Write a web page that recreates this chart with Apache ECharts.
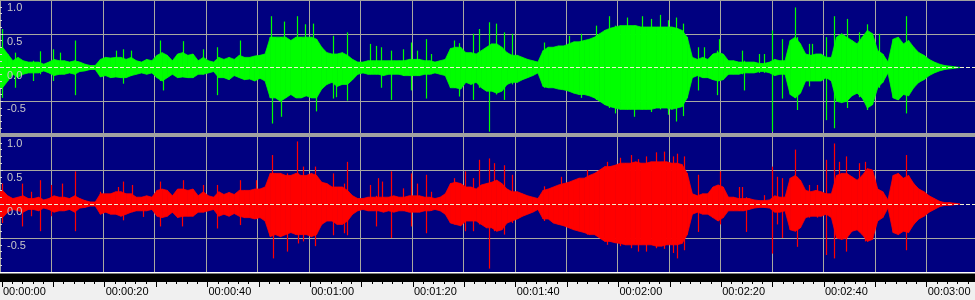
<!DOCTYPE html>
<html><head><meta charset="utf-8">
<script src="https://cdn.jsdelivr.net/npm/echarts@6/dist/echarts.min.js"></script>
<style>html,body{margin:0;padding:0;background:#f0f0f0}#c{width:975px;height:300px}</style>
</head><body><div id="c"></div>
<script>
// Per-second envelope of the dense waveform body (index = second)
const greenHi = [0.3,0.2,0.1,0.15,0.1,0.08,0.08,0.08,0.05,0.08,
0.12,0.1,0.1,0.08,0.1,0.08,0.05,0.03,0.03,0.12,
0.15,0.14,0.15,0.15,0.12,0.15,0.1,0.08,0.12,0.1,
0.18,0.22,0.18,0.1,0.2,0.22,0.18,0.2,0.1,0.15,
0.1,0.08,0.15,0.12,0.15,0.12,0.18,0.15,0.15,0.17,
0.18,0.2,0.45,0.45,0.45,0.45,0.4,0.45,0.45,0.45,
0.45,0.42,0.3,0.22,0.2,0.2,0.22,0.18,0.12,0.08,
0.08,0.1,0.1,0.1,0.1,0.1,0.1,0.1,0.1,0.12,
0.12,0.12,0.1,0.1,0.08,0.1,0.12,0.28,0.3,0.3,
0.22,0.22,0.2,0.25,0.3,0.35,0.35,0.3,0.22,0.18,
0.18,0.15,0.12,0.1,0.08,0.25,0.3,0.3,0.32,0.32,
0.35,0.38,0.38,0.4,0.42,0.45,0.5,0.55,0.58,0.6,
0.62,0.62,0.62,0.62,0.6,0.6,0.6,0.6,0.6,0.6,
0.6,0.58,0.55,0.45,0.15,0.12,0.15,0.12,0.2,0.22,
0.2,0.1,0.1,0.08,0.08,0.08,0.08,0.06,0.06,0.08,
0.12,0.1,0.1,0.4,0.45,0.35,0.2,0.18,0.2,0.2,
0.15,0.15,0.45,0.5,0.45,0.4,0.35,0.45,0.55,0.5,
0.25,0.2,0.08,0.42,0.45,0.35,0.4,0.3,0.22,0.18,
0.12,0.08,0.05,0.03,0.02,0.01];
const greenLo = [-0.3,-0.2,-0.1,-0.15,-0.1,-0.08,-0.08,-0.08,-0.05,-0.08,
-0.12,-0.1,-0.1,-0.08,-0.1,-0.06,-0.05,-0.03,-0.03,-0.14,
-0.12,-0.15,-0.14,-0.15,-0.15,-0.12,-0.1,-0.08,-0.1,-0.08,
-0.15,-0.2,-0.15,-0.1,-0.15,-0.14,-0.15,-0.15,-0.1,-0.1,
-0.08,-0.06,-0.15,-0.15,-0.18,-0.12,-0.15,-0.18,-0.17,-0.2,
-0.16,-0.2,-0.45,-0.45,-0.5,-0.45,-0.4,-0.45,-0.45,-0.42,
-0.45,-0.45,-0.32,-0.25,-0.22,-0.28,-0.25,-0.25,-0.18,-0.1,
-0.08,-0.1,-0.1,-0.1,-0.12,-0.1,-0.1,-0.1,-0.12,-0.12,
-0.12,-0.12,-0.1,-0.1,-0.08,-0.1,-0.12,-0.3,-0.3,-0.32,
-0.22,-0.25,-0.22,-0.3,-0.35,-0.35,-0.38,-0.35,-0.25,-0.22,
-0.22,-0.18,-0.15,-0.12,-0.08,-0.28,-0.3,-0.3,-0.32,-0.33,
-0.35,-0.38,-0.4,-0.4,-0.42,-0.45,-0.5,-0.55,-0.58,-0.6,
-0.62,-0.62,-0.62,-0.62,-0.62,-0.62,-0.62,-0.6,-0.6,-0.6,
-0.62,-0.6,-0.58,-0.45,-0.15,-0.12,-0.15,-0.15,-0.18,-0.2,
-0.18,-0.1,-0.1,-0.1,-0.08,-0.08,-0.08,-0.06,-0.06,-0.08,
-0.12,-0.1,-0.1,-0.4,-0.45,-0.38,-0.2,-0.2,-0.2,-0.2,
-0.15,-0.2,-0.5,-0.52,-0.5,-0.42,-0.38,-0.45,-0.6,-0.55,
-0.3,-0.22,-0.08,-0.45,-0.48,-0.4,-0.42,-0.3,-0.22,-0.18,
-0.12,-0.08,-0.05,-0.03,-0.02,-0.01];
const redHi = [0.2,0.12,0.08,0.1,0.12,0.08,0.08,0.1,0.06,0.08,
0.12,0.1,0.1,0.08,0.12,0.08,0.05,0.03,0.03,0.15,
0.15,0.15,0.18,0.18,0.15,0.15,0.1,0.1,0.12,0.1,
0.2,0.22,0.2,0.12,0.22,0.22,0.2,0.22,0.12,0.18,
0.12,0.1,0.18,0.14,0.17,0.14,0.2,0.2,0.2,0.22,
0.22,0.25,0.45,0.45,0.45,0.42,0.42,0.45,0.42,0.42,
0.45,0.42,0.32,0.3,0.25,0.25,0.25,0.2,0.12,0.08,
0.08,0.1,0.1,0.1,0.1,0.1,0.12,0.1,0.1,0.12,
0.12,0.12,0.1,0.1,0.08,0.1,0.15,0.3,0.32,0.3,
0.25,0.25,0.22,0.28,0.3,0.32,0.35,0.3,0.22,0.18,
0.18,0.15,0.12,0.1,0.08,0.2,0.22,0.25,0.28,0.3,
0.32,0.35,0.38,0.38,0.42,0.45,0.5,0.55,0.55,0.57,
0.6,0.6,0.6,0.62,0.6,0.6,0.62,0.62,0.62,0.62,
0.6,0.6,0.58,0.45,0.15,0.12,0.15,0.15,0.25,0.28,
0.25,0.1,0.1,0.08,0.08,0.08,0.06,0.05,0.05,0.06,
0.12,0.1,0.1,0.38,0.42,0.35,0.2,0.18,0.2,0.18,
0.15,0.15,0.42,0.45,0.45,0.4,0.35,0.42,0.52,0.5,
0.22,0.18,0.06,0.42,0.45,0.38,0.42,0.3,0.22,0.18,
0.12,0.08,0.04,0.02,0.02,0.01];
const redLo = [-0.2,-0.12,-0.08,-0.1,-0.12,-0.08,-0.08,-0.1,-0.06,-0.08,
-0.12,-0.1,-0.1,-0.08,-0.12,-0.06,-0.05,-0.03,-0.03,-0.15,
-0.12,-0.15,-0.15,-0.18,-0.15,-0.12,-0.1,-0.1,-0.1,-0.08,
-0.18,-0.2,-0.18,-0.12,-0.2,-0.18,-0.18,-0.18,-0.12,-0.12,
-0.1,-0.08,-0.18,-0.15,-0.18,-0.14,-0.18,-0.2,-0.2,-0.22,
-0.2,-0.25,-0.48,-0.45,-0.48,-0.45,-0.42,-0.45,-0.45,-0.45,
-0.48,-0.45,-0.3,-0.25,-0.25,-0.3,-0.3,-0.25,-0.15,-0.1,
-0.08,-0.1,-0.1,-0.1,-0.12,-0.1,-0.12,-0.1,-0.1,-0.12,
-0.12,-0.12,-0.1,-0.1,-0.08,-0.1,-0.15,-0.28,-0.3,-0.32,
-0.25,-0.25,-0.25,-0.3,-0.35,-0.35,-0.4,-0.38,-0.28,-0.25,
-0.22,-0.18,-0.15,-0.12,-0.08,-0.22,-0.22,-0.28,-0.3,-0.32,
-0.35,-0.38,-0.4,-0.42,-0.45,-0.45,-0.5,-0.55,-0.55,-0.57,
-0.58,-0.6,-0.6,-0.6,-0.6,-0.6,-0.6,-0.62,-0.62,-0.6,
-0.6,-0.6,-0.58,-0.45,-0.15,-0.12,-0.15,-0.15,-0.2,-0.25,
-0.2,-0.1,-0.1,-0.1,-0.1,-0.08,-0.06,-0.05,-0.05,-0.06,
-0.12,-0.12,-0.1,-0.38,-0.4,-0.35,-0.2,-0.18,-0.18,-0.18,
-0.15,-0.2,-0.5,-0.52,-0.5,-0.4,-0.38,-0.45,-0.55,-0.52,
-0.25,-0.2,-0.06,-0.42,-0.45,-0.4,-0.42,-0.3,-0.22,-0.18,
-0.12,-0.08,-0.04,-0.02,-0.02,-0.01];

// Individual peaks (time in s, max, min)
const greenSpikeT = [0.3,2.9,6.4,7.8,10.3,11.7,14.6,22.5,23.8,25.5,31.1,31.7,35.6,39.5,42.1,46.6,52.7,52.9,54.5,55.2,57.6,59.2,60.8,61.4,64.6,65.3,67.4,71.9,73.0,74.1,75.9,78.2,79.8,81.1,82.7,83.7,88.2,89.2,91.8,93.1,95.0,96.3,97.9,99.5,105.7,110.5,112.8,115.7,118.3,119.5,121.8,123.1,124.7,126.5,128.2,129.8,131.4,132.6,135.6,136.8,139.2,139.7,144.2,144.5,147.5,148.4,150.0,152.0,154.4,154.9,157.1,157.8,160.4,162.0,164.6,166.8,168.5,170.7,175.9];
const greenSpikeHi = [0.57,0.22,0.1,0.24,0.27,0.22,0.4,0.25,0.27,0.25,0.4,0.2,0.39,0.27,0.3,0.4,0.76,0.45,0.45,0.68,0.76,0.64,0.65,0.42,0.47,0.2,0.52,0.35,0.32,0.3,0.25,0.27,0.37,0.25,0.42,0.2,0.4,0.36,0.5,0.57,0.67,0.65,0.52,0.5,0.37,0.47,0.5,0.62,0.76,0.62,0.74,0.62,0.76,0.72,0.78,0.7,0.74,0.65,0.3,0.3,0.25,0.42,0.25,0.1,0.2,0.2,0.55,0.42,0.89,0.45,0.35,0.35,0.45,0.76,0.72,0.52,0.64,0.5,0.76];
const greenSpikeLo = [-0.45,-0.3,-0.2,-0.1,-0.2,-0.1,-0.41,-0.14,-0.24,-0.12,-0.2,-0.34,-0.14,-0.1,-0.41,-0.15,-0.45,-0.83,-0.73,-0.45,-0.45,-0.42,-0.45,-0.65,-0.46,-0.44,-0.49,-0.1,-0.1,-0.3,-0.48,-0.12,-0.34,-0.12,-0.46,-0.1,-0.3,-0.43,-0.48,-0.3,-0.95,-0.4,-0.48,-0.25,-0.3,-0.35,-0.45,-0.48,-0.6,-0.68,-0.62,-0.73,-0.62,-0.66,-0.62,-0.7,-0.8,-0.72,-0.34,-0.15,-0.41,-0.2,-0.1,-0.34,-0.08,-0.08,-0.95,-0.46,-0.45,-0.63,-0.28,-0.2,-0.78,-0.9,-0.6,-0.44,-0.63,-0.3,-0.68];
const redSpikeT = [0.3,4.2,6.1,7.8,10.0,12.0,14.6,19.4,23.0,23.9,25.6,27.8,31.1,35.3,35.6,39.5,42.1,46.6,49.8,52.8,53.1,55.7,57.6,57.9,58.9,61.2,64.6,66.9,67.4,71.9,73.0,73.4,74.3,75.9,78.2,79.8,81.1,82.7,83.7,88.2,90.3,91.8,93.1,95.0,96.0,97.9,99.5,105.7,108.9,114.1,118.0,120.5,122.5,124.0,125.4,127.5,129.0,130.7,131.6,132.8,135.6,139.8,143.6,144.2,144.9,148.4,150.0,151.0,152.0,154.4,154.9,157.1,158.8,160.4,162.0,163.0,164.3,166.8,168.1,175.9];
const redSpikeHi = [0.3,0.3,0.18,0.35,0.28,0.3,0.48,0.18,0.25,0.33,0.28,0.1,0.33,0.22,0.35,0.28,0.28,0.35,0.35,0.72,0.45,0.45,0.92,0.45,0.55,0.55,0.45,0.3,0.62,0.28,0.12,0.38,0.33,0.48,0.23,0.45,0.3,0.43,0.18,0.38,0.48,0.38,0.65,0.67,0.6,0.57,0.43,0.26,0.4,0.5,0.62,0.68,0.72,0.66,0.7,0.76,0.77,0.7,0.74,0.7,0.43,0.48,0.25,0.25,0.1,0.13,0.55,0.4,0.38,0.8,0.4,0.28,0.28,0.65,0.89,0.62,0.7,0.6,0.62,0.72];
const redSpikeLo = [-0.28,-0.33,-0.18,-0.4,-0.18,-0.1,-0.4,-0.15,-0.15,-0.24,-0.12,-0.19,-0.33,-0.33,-0.18,-0.12,-0.36,-0.31,-0.22,-0.45,-0.8,-0.7,-0.45,-0.58,-0.55,-0.62,-0.46,-0.43,-0.46,-0.1,-0.33,-0.1,-0.1,-0.5,-0.1,-0.33,-0.12,-0.43,-0.1,-0.3,-0.4,-0.4,-0.3,-0.95,-0.4,-0.45,-0.28,-0.25,-0.3,-0.45,-0.6,-0.62,-0.65,-0.7,-0.7,-0.65,-0.66,-0.72,-0.8,-0.68,-0.41,-0.3,-0.1,-0.1,-0.41,-0.05,-0.73,-0.3,-0.5,-0.4,-0.63,-0.2,-0.2,-0.75,-0.8,-0.5,-0.7,-0.4,-0.55,-0.68];

const yTicks = [-1, -0.5, 0, 0.5, 1];
const timeMax = 189.4;      // seconds visible
const gridStep = 10;        // seconds between grid lines
const labelStep = 20;       // seconds between time labels

const NAVY = '#000080', GRID = '#a8a8a0';

// each item: [t, hi, lo, nextHi, nextLo] -> envelope segment between bin centres
function bins(hi, lo) {
  return hi.map((h, i) => [i, h, lo[i], i + 1 < hi.length ? hi[i + 1] : 0, i + 1 < lo.length ? lo[i + 1] : 0]);
}
function spikes(t, hi, lo) { return t.map((v, i) => [v, hi[i], lo[i]]); }
function bodyRender(color) {
  return function (params, api) {
    const t = api.value(0);
    const a = api.coord([t + 0.5, api.value(1)]);
    const b = api.coord([t + 1.5, api.value(3)]);
    const c = api.coord([t + 1.5, api.value(4)]);
    const d = api.coord([t + 0.5, api.value(2)]);
    const pts = [a, b, c, d];
    if (t === 0) {
      pts.unshift(api.coord([0, api.value(1)]));
      pts.push(api.coord([0, api.value(2)]));
    }
    return { type: 'polygon', shape: { points: pts },
             style: { fill: color, stroke: color, lineWidth: 0.8 } };
  };
}
function spikeRender(color) {
  return function (params, api) {
    const t = api.value(0);
    const p1 = api.coord([t, api.value(1)]);
    const p2 = api.coord([t, api.value(2)]);
    const x = Math.round(p1[0]) + 0.5;
    return { type: 'line', shape: { x1: x, y1: p1[1], x2: x, y2: p2[1] },
             style: { stroke: color, lineWidth: 1.2 } };
  };
}
function pad(n) { return (n < 10 ? '0' : '') + n; }
function fmtTime(v) {
  if (Math.abs(v / labelStep - Math.round(v / labelStep)) > 1e-6) return '';
  const s = Math.round(v);
  return pad(Math.floor(s / 3600)) + ':' + pad(Math.floor(s / 60) % 60) + ':' + pad(s % 60);
}

const zeroLine = {
  silent: true, symbol: 'none', animation: false,
  label: { show: false },
  lineStyle: { color: '#f0f0d0', type: [4, 2], width: 1 },
  data: [{ yAxis: 0 }]
};

// grid-line axis (drawn beneath the waveform)
function yAxisGrid(i) {
  return {
    type: 'value', gridIndex: i, min: yTicks[0], max: yTicks[yTicks.length - 1], interval: 0.5,
    axisLine: { show: false }, axisTick: { show: false }, axisLabel: { show: false },
    splitLine: { show: true, lineStyle: { color: [GRID, GRID, 'rgba(0,0,0,0)', GRID, GRID], width: 1 } }
  };
}
// label/tick axis (drawn above the waveform)
function yAxisLabels(i) {
  return {
    type: 'value', gridIndex: i, min: yTicks[0], max: yTicks[yTicks.length - 1], interval: 0.5,
    position: 'left', z: 20,
    axisLine: { show: false },
    axisTick: { show: true, inside: true, length: 3, lineStyle: { color: '#d8d8d8' } },
    minorTick: { show: true, splitNumber: 5, length: 2, lineStyle: { color: '#d8d8d8' } },
    axisLabel: {
      inside: true, margin: 7, color: '#c8c8c8', fontSize: 11, fontFamily: 'Liberation Sans, Arial, sans-serif',
      verticalAlign: 'top', lineHeight: 12, padding: [2, 0, 0, 0],
      formatter: v => (v <= -1 ? '' : v.toFixed(1))
    },
    splitLine: { show: false }
  };
}
function xAxisPlot(i) {
  return {
    type: 'value', gridIndex: i, min: 0, max: timeMax, interval: gridStep,
    axisLine: { show: false }, axisTick: { show: false }, axisLabel: { show: false },
    splitLine: { show: true, lineStyle: { color: GRID, width: 1 } }
  };
}

const chart = echarts.init(document.getElementById('c'), null, { renderer: 'canvas' });
chart.setOption({
  animation: false,
  backgroundColor: '#f0f0f0',
  grid: [
    { left: 0, width: 975, top: -1, height: 136, show: true, backgroundColor: NAVY, borderWidth: 0 },
    { left: 0, width: 975, top: 136, height: 136, show: true, backgroundColor: NAVY, borderWidth: 0 },
    { left: 0, width: 975, top: 281, height: 1, show: false }
  ],
  xAxis: [
    xAxisPlot(0), xAxisPlot(1),
    {
      type: 'value', gridIndex: 2, min: 0, max: timeMax, interval: gridStep, position: 'bottom',
      axisLine: { show: false },
      axisTick: { show: true, length: 5, lineStyle: { color: '#000' } },
      minorTick: { show: true, splitNumber: 5, length: 2, lineStyle: { color: '#000' } },
      splitLine: { show: false },
      axisLabel: { show: true, margin: 4, color: '#000', fontSize: 11, fontFamily: 'Liberation Sans, Arial, sans-serif',
                   align: 'left', padding: [0, 0, 0, 1], formatter: fmtTime, hideOverlap: false,
                   showMinLabel: true, showMaxLabel: false }
    }
  ],
  yAxis: [yAxisGrid(0), yAxisGrid(1), { type: 'value', gridIndex: 2, show: false, min: 0, max: 1 },
          yAxisLabels(0), yAxisLabels(1)],
  series: [
    { type: 'custom', xAxisIndex: 0, yAxisIndex: 0, renderItem: bodyRender('#00ff00'),
      encode: { x: 0, y: [1, 2] }, data: bins(greenHi, greenLo), silent: true, clip: true },
    { type: 'custom', xAxisIndex: 0, yAxisIndex: 0, renderItem: spikeRender('#00ff00'),
      encode: { x: 0, y: [1, 2] }, data: spikes(greenSpikeT, greenSpikeHi, greenSpikeLo), silent: true, clip: true,
      markLine: zeroLine },
    { type: 'custom', xAxisIndex: 1, yAxisIndex: 1, renderItem: bodyRender('#ff0000'),
      encode: { x: 0, y: [1, 2] }, data: bins(redHi, redLo), silent: true, clip: true },
    { type: 'custom', xAxisIndex: 1, yAxisIndex: 1, renderItem: spikeRender('#ff0000'),
      encode: { x: 0, y: [1, 2] }, data: spikes(redSpikeT, redSpikeHi, redSpikeLo), silent: true, clip: true,
      markLine: zeroLine }
  ],
  graphic: [
    { type: 'rect', z: 100, shape: { x: 0, y: 0, width: 975, height: 1 }, style: { fill: '#a0a0a0' } },
    { type: 'rect', z: 100, shape: { x: 0, y: 133, width: 975, height: 4 }, style: { fill: '#a0a0a0' } },
    { type: 'rect', z: 100, shape: { x: 0, y: 272, width: 975, height: 1.5 }, style: { fill: '#ffffff' } },
    { type: 'rect', z: 100, shape: { x: 0, y: 273.5, width: 975, height: 8.5 }, style: { fill: '#000000' } }
  ]
});
</script></body></html>
